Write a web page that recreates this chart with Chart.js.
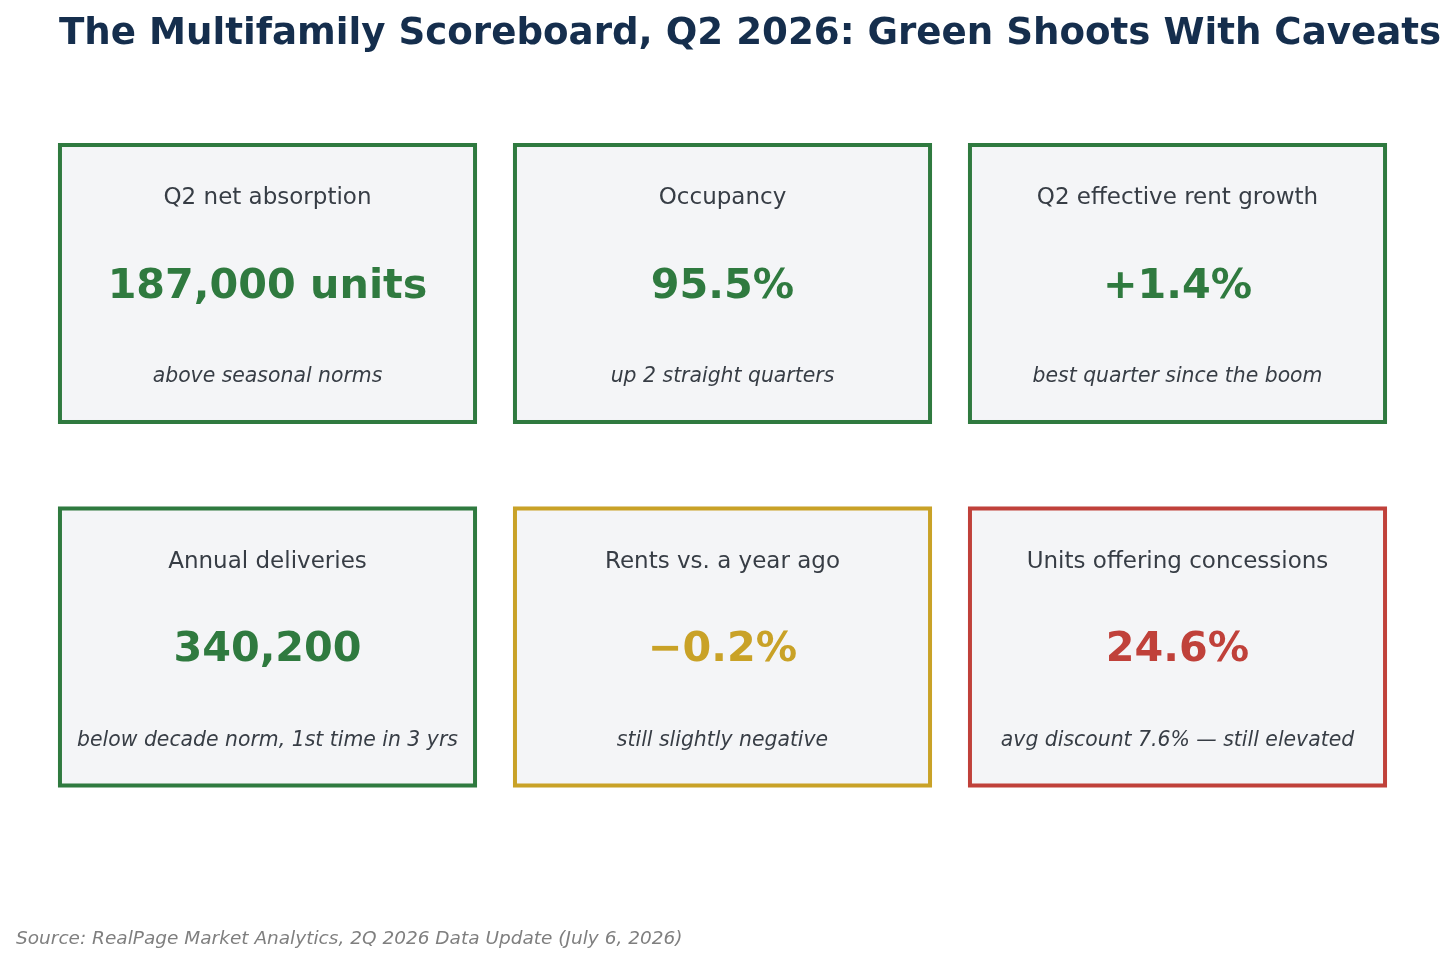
<!DOCTYPE html>
<html>
<head>
<meta charset="utf-8">
<script src="https://cdn.jsdelivr.net/npm/chart.js@4"></script>
<style>
html,body{margin:0;padding:0;background:#ffffff;}
#wrap{width:1456px;height:964px;position:relative;}
</style>
</head>
<body>
<div id="wrap"><canvas id="c" width="1456" height="964"></canvas></div>
<script>
// ---- data ----
const titleText = 'The Multifamily Scoreboard, Q2 2026: Green Shoots With Caveats';
const sourceText = 'Source: RealPage Market Analytics, 2Q 2026 Data Update (July 6, 2026)';
const metricLabels = ['Q2 net absorption', 'Occupancy', 'Q2 effective rent growth', 'Annual deliveries', 'Rents vs. a year ago', 'Units offering concessions'];
const metricValues = ['187,000 units', '95.5%', '+1.4%', '340,200', '\u22120.2%', '24.6%'];
const metricNotes = ['above seasonal norms', 'up 2 straight quarters', 'best quarter since the boom', 'below decade norm, 1st time in 3 yrs', 'still slightly negative', 'avg discount 7.6% \u2014 still elevated'];
const metricStatus = ['good', 'good', 'good', 'good', 'watch', 'bad'];
const gridCols = [0, 1, 2, 0, 1, 2];
const gridRows = [0, 0, 0, 1, 1, 1];

// ---- styles ----
const statusColors = { good: '#2f7a3f', watch: '#c9a227', bad: '#c0413a' };
const FONT = '"DejaVu Sans", sans-serif';

const cardPlugin = {
  id: 'cards',
  afterDatasetsDraw(chart) {
    const ctx = chart.ctx;
    const xs = chart.scales.x, ys = chart.scales.y;
    const meta = chart.getDatasetMeta(0);
    const halfW = Math.abs(xs.getPixelForValue(0.4605) - xs.getPixelForValue(0));
    const halfH = Math.abs(ys.getPixelForValue(0.3865) - ys.getPixelForValue(0));
    const rowUnit = Math.abs(ys.getPixelForValue(1) - ys.getPixelForValue(0));
    meta.data.forEach((pt, i) => {
      const cx = pt.x, cy = pt.y;
      const col = statusColors[metricStatus[i]];
      ctx.save();
      ctx.fillStyle = '#f4f5f7';
      ctx.fillRect(cx - halfW, cy - halfH, halfW * 2, halfH * 2);
      ctx.strokeStyle = col;
      ctx.lineWidth = 4;
      ctx.strokeRect(cx - halfW + 2, cy - halfH + 2, halfW * 2 - 4, halfH * 2 - 4);
      ctx.textAlign = 'center';
      ctx.textBaseline = 'middle';
      ctx.fillStyle = '#373d45';
      ctx.font = '23px ' + FONT;
      ctx.fillText(metricLabels[i], cx, cy - 0.235 * rowUnit);
      ctx.fillStyle = col;
      ctx.font = 'bold 41.3px ' + FONT;
      ctx.fillText(metricValues[i], cx, cy + 0.010 * rowUnit);
      ctx.fillStyle = '#373d45';
      ctx.font = 'italic 20.4px ' + FONT;
      ctx.fillText(metricNotes[i], cx, cy + 0.257 * rowUnit);
      ctx.restore();
    });
    // title & source
    ctx.save();
    ctx.textAlign = 'left';
    ctx.textBaseline = 'alphabetic';
    ctx.fillStyle = '#152e4d';
    ctx.font = 'bold 37.2px ' + FONT;
    ctx.fillText(titleText, 59, 44);
    ctx.fillStyle = '#7f7f7f';
    ctx.font = 'italic 18.5px ' + FONT;
    ctx.fillText(sourceText, 16, 944);
    ctx.restore();
  }
};

new Chart(document.getElementById('c'), {
  type: 'scatter',
  data: {
    datasets: [{
      data: gridCols.map((c, i) => ({ x: c, y: gridRows[i] })),
      pointRadius: 0,
      pointHoverRadius: 0
    }]
  },
  options: {
    responsive: false,
    animation: false,
    devicePixelRatio: 1,
    layout: { padding: { left: 40, right: 51, top: 101.75, bottom: 135.25 } },
    scales: {
      x: { type: 'linear', min: -0.5, max: 2.5, display: false },
      y: { type: 'linear', min: -0.5, max: 1.5, reverse: true, display: false }
    },
    plugins: { legend: { display: false }, tooltip: { enabled: false }, title: { display: false } }
  },
  plugins: [cardPlugin]
});
</script>
</body>
</html>
